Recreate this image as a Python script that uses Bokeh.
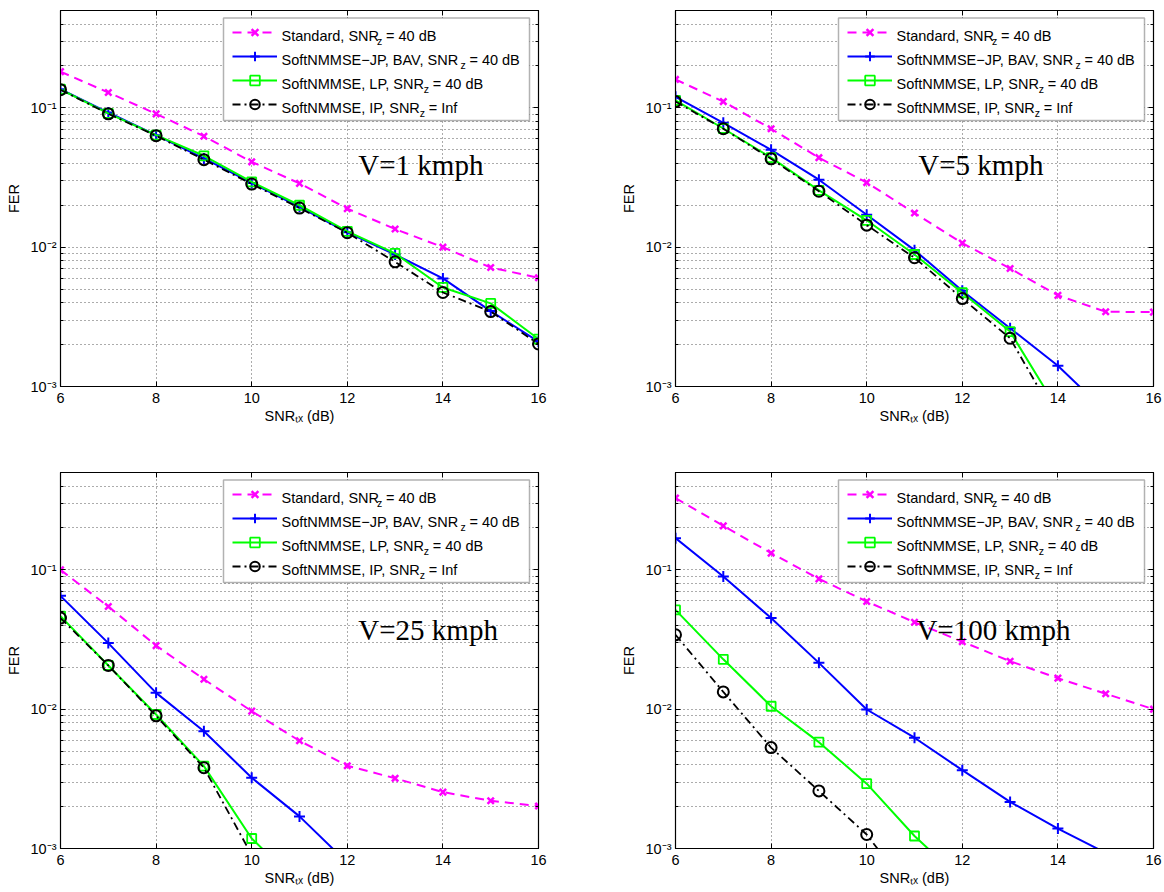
from bokeh.plotting import figure
from bokeh.models import (Range1d, FixedTicker, CustomJSTickFormatter, LinearAxis, LogAxis,
                          Legend, LegendItem, Label, BoxAnnotation)
from bokeh.layouts import row, column
from bokeh.embed import file_html
from bokeh.resources import INLINE

# ---------------- data ----------------
snr = [6, 7, 8, 9, 10, 11, 12, 13, 14, 15, 16]

# V = 1 kmph
v1_standard = [0.182, 0.129, 0.0906, 0.0626, 0.0410, 0.0287, 0.0189, 0.0135, 0.0100, 0.00715, 0.00603]
v1_bav = [0.136, 0.0926, 0.0637, 0.0434, 0.0289, 0.0195, 0.0128, 0.00886, 0.00597, 0.00348, 0.00210]
v1_lp = [0.136, 0.0912, 0.0637, 0.0453, 0.0294, 0.0200, 0.0130, 0.00902, 0.00514, 0.00395, 0.00219]
v1_ip = [0.135, 0.0906, 0.0631, 0.0425, 0.0284, 0.0191, 0.0127, 0.00785, 0.00473, 0.00345, 0.00202]

# V = 5 kmph
v5_standard = [0.160, 0.111, 0.0708, 0.0439, 0.0291, 0.0176, 0.0107, 0.00703, 0.00451, 0.00344, 0.00342]
v5_bav = [0.120, 0.0781, 0.0500, 0.0305, 0.0171, 0.00952, 0.00487, 0.00262, 0.00141, 0.00066]
v5_lp = [0.113, 0.0711, 0.0439, 0.0256, 0.0156, 0.00886, 0.00471, 0.00248, 0.00068]
v5_ip = [0.111, 0.0708, 0.0431, 0.0252, 0.0144, 0.00840, 0.00428, 0.00222, 0.00056]

# V = 25 kmph
v25_standard = [0.100, 0.0546, 0.0286, 0.0164, 0.00968, 0.00593, 0.00393, 0.00319, 0.00254, 0.00220, 0.00202]
v25_bav = [0.0651, 0.0298, 0.0131, 0.00695, 0.00322, 0.00170, 0.00079]
v25_lp = [0.0466, 0.0206, 0.00916, 0.00390, 0.00118, 0.00055]
v25_ip = [0.0451, 0.0206, 0.00896, 0.00380, 0.00090]

# V = 100 kmph
v100_standard = [0.328, 0.207, 0.132, 0.0862, 0.0593, 0.0421, 0.0305, 0.0221, 0.0167, 0.0129, 0.0100]
v100_bav = [0.169, 0.0895, 0.0451, 0.0215, 0.00995, 0.00624, 0.00365, 0.00216, 0.00139, 0.00093]
v100_lp = [0.0516, 0.0228, 0.0105, 0.0058, 0.00292, 0.00123, 0.00059]
v100_ip = [0.0342, 0.0133, 0.0053, 0.00259, 0.00126, 0.00045]

panel_titles = ["V=1 kmph", "V=5 kmph", "V=25 kmph", "V=100 kmph"]
title_pos = [(12.23, 0.0387), (11.08, 0.0387), (12.23, 0.0371), (11.04, 0.0371)]

legend_rows = [("Standard, SNR", "z", "= 40 dB"),
               ("SoftNMMSE\u2212JP, BAV, SNR", "z", "= 40 dB"),
               ("SoftNMMSE, LP, SNR", "z", "= 40 dB"),
               ("SoftNMMSE, IP, SNR", "z", "= Inf")]

x_label = "SNR\u209c\u2093 (dB)"
y_label = "FER"
x_ticks = [6, 8, 10, 12, 14, 16]
y_ticks = [1e-3, 1e-2, 1e-1]
y_minor = [m * d for d in (1e-3, 1e-2, 1e-1) for m in range(2, 10) if m * d <= 0.5]
Y_MIN, Y_MAX = 1e-3, 0.5
X_MIN, X_MAX = 6, 16

# ---------------- styling ----------------
FONT = "Liberation Sans"
FW, FH = 478, 376
FS = 14.5
STYLES = [
    dict(color="#FF00FF", dash="9 6", marker="x", size=9, lw=2.0, mlw=2.5),
    dict(color="#0000FF", dash="solid", marker="cross", size=11, lw=2.0, mlw=2.0),
    dict(color="#00FF00", dash="solid", marker="square", size=9, lw=2.0, mlw=1.8),
    dict(color="#000000", dash="8 4 2 4", marker="circle", size=11, lw=1.8, mlw=2.0),
]

# Arial / Liberation Sans advance widths (per 1000 em)
AW = {'S': 667, 't': 278, 'a': 556, 'n': 556, 'd': 556, 'r': 333, ',': 278, ' ': 278,
      'N': 722, 'R': 722, 'o': 556, 'f': 278, 'M': 833, 'E': 667, '\u2212': 584, 'J': 500,
      'P': 667, 'B': 667, 'A': 667, 'V': 667, 'L': 556, 'I': 278}


def tw(s, size):
    return sum(AW.get(c, 556) for c in s) * size / 1000.0


def make_panel(series, title, tpos, lb, rb, tb, bb):
    p = figure(width=lb + FW + rb, height=tb + FH + bb, y_axis_type="log",
               x_range=Range1d(X_MIN, X_MAX), y_range=Range1d(Y_MIN, Y_MAX),
               output_backend="svg", toolbar_location=None,
               min_border_left=lb, min_border_right=rb, min_border_top=tb, min_border_bottom=bb)
    p.background_fill_color = "white"
    p.border_fill_color = "white"
    p.outline_line_color = "black"
    p.outline_line_width = 1.2

    xt = FixedTicker(ticks=x_ticks, minor_ticks=[])
    yt = FixedTicker(ticks=y_ticks, minor_ticks=y_minor)
    p.xaxis.ticker = xt
    p.yaxis.ticker = yt
    p.yaxis.formatter = CustomJSTickFormatter(code="""
        const e = Math.round(Math.log10(tick));
        const sup = {"-1": "\\u207b\\u00b9", "-2": "\\u207b\\u00b2", "-3": "\\u207b\\u00b3"};
        return "10" + (sup[String(e)] || String(e));
    """)
    for ax in (p.xaxis[0], p.yaxis[0]):
        ax.major_tick_in = 5
        ax.major_tick_out = 0
        ax.minor_tick_in = 3
        ax.minor_tick_out = 0
        ax.axis_line_color = "black"
        ax.major_tick_line_color = "black"
        ax.minor_tick_line_color = "black"
        ax.major_label_text_font = FONT
        ax.major_label_text_font_size = "14.5px"
        ax.major_label_text_color = "black"
        ax.axis_label_text_font = FONT
        ax.axis_label_text_font_size = "14.5px"
        ax.axis_label_text_font_style = "normal"
        ax.axis_label_text_color = "black"
    p.xaxis.minor_tick_line_color = None
    p.xaxis.major_label_standoff = 6
    p.yaxis.major_label_standoff = 4
    p.yaxis.axis_label = y_label
    p.yaxis.axis_label_standoff = 6
    p.xaxis.axis_label = x_label
    p.xaxis.axis_label_standoff = 2

    blank = CustomJSTickFormatter(code="return '';")
    ra = LogAxis(ticker=yt, formatter=blank, major_label_text_font_size="0px", major_label_standoff=0,
                 major_tick_in=5, major_tick_out=0, minor_tick_in=3, minor_tick_out=0,
                 axis_line_color="black")
    p.add_layout(ra, "right")
    ta = LinearAxis(ticker=xt, formatter=blank, major_label_text_font_size="0px", major_label_standoff=0,
                    major_tick_in=5, major_tick_out=0, minor_tick_line_color=None,
                    axis_line_color="black")
    p.add_layout(ta, "above")

    for g in (p.xgrid[0], p.ygrid[0]):
        g.grid_line_color = "#222222"
        g.grid_line_alpha = 0.75
        g.grid_line_dash = "1 3"
        g.grid_line_width = 1
    p.ygrid.minor_grid_line_color = "#222222"
    p.ygrid.minor_grid_line_alpha = 0.75
    p.ygrid.minor_grid_line_dash = "1 3"

    items = []
    for vals, st in zip(series, STYLES):
        xs = snr[:len(vals)]
        l = p.line(xs, vals, line_color=st["color"], line_width=st["lw"], line_dash=st["dash"])
        mx = [x for x, v in zip(xs, vals) if v >= Y_MIN]
        my = [v for v in vals if v >= Y_MIN]
        s = p.scatter(mx, my, marker=st["marker"], size=st["size"], line_color=st["color"],
                      line_width=st["mlw"], fill_color=None)
        items.append(LegendItem(label=" ", renderers=[l, s]))

    # legend frame
    box = BoxAnnotation(left=163, right=469, top=FH - 7.5, bottom=FH - 110,
                        left_units="screen", right_units="screen", top_units="screen", bottom_units="screen",
                        fill_color="white", fill_alpha=1.0, line_color="black", line_width=1.5)
    p.add_layout(box)
    leg = Legend(items=items, location=(172, FH - 10 - 96), orientation="vertical",
                 padding=0, margin=0, spacing=0, glyph_width=45, glyph_height=24,
                 label_width=0, label_height=0, label_standoff=0, label_text_font_size="1px",
                 border_line_color=None, background_fill_alpha=0)
    p.add_layout(leg)

    tx0 = 221
    for i, (pre, sub, suf) in enumerate(legend_rows):
        yb = FH - (25.5 + 24 * i)
        w = tw(pre, FS)
        p.add_layout(Label(x=tx0, y=yb, x_units="screen", y_units="screen", text=pre,
                           text_font=FONT, text_font_size=f"{FS}px", text_color="black",
                           text_baseline="alphabetic"))
        p.add_layout(Label(x=tx0 + w - 2, y=yb - 5, x_units="screen", y_units="screen", text=sub,
                           text_font=FONT, text_font_size="10.5px", text_color="black",
                           text_baseline="alphabetic"))
        p.add_layout(Label(x=tx0 + w + 7, y=yb, x_units="screen", y_units="screen", text=suf,
                           text_font=FONT, text_font_size=f"{FS}px", text_color="black",
                           text_baseline="alphabetic"))

    p.add_layout(Label(x=tpos[0], y=tpos[1], text=title, text_font="Liberation Serif",
                       text_font_size="29px", text_color="black", text_baseline="alphabetic"))
    return p


# page has no margin in Bokeh's template: frames at x 60..538 / 675..1153, y 10..386 / 472..848
p1 = make_panel([v1_standard, v1_bav, v1_lp, v1_ip], panel_titles[0], title_pos[0], 60, 44, 10, 60)
p2 = make_panel([v5_standard, v5_bav, v5_lp, v5_ip], panel_titles[1], title_pos[1], 93, 11, 10, 60)
p3 = make_panel([v25_standard, v25_bav, v25_lp, v25_ip], panel_titles[2], title_pos[2], 60, 44, 26, 44)
p4 = make_panel([v100_standard, v100_bav, v100_lp, v100_ip], panel_titles[3], title_pos[3], 93, 11, 26, 44)

layout = column(row(p1, p2), row(p3, p4))
open("out.html", "w").write(file_html(layout, INLINE))
